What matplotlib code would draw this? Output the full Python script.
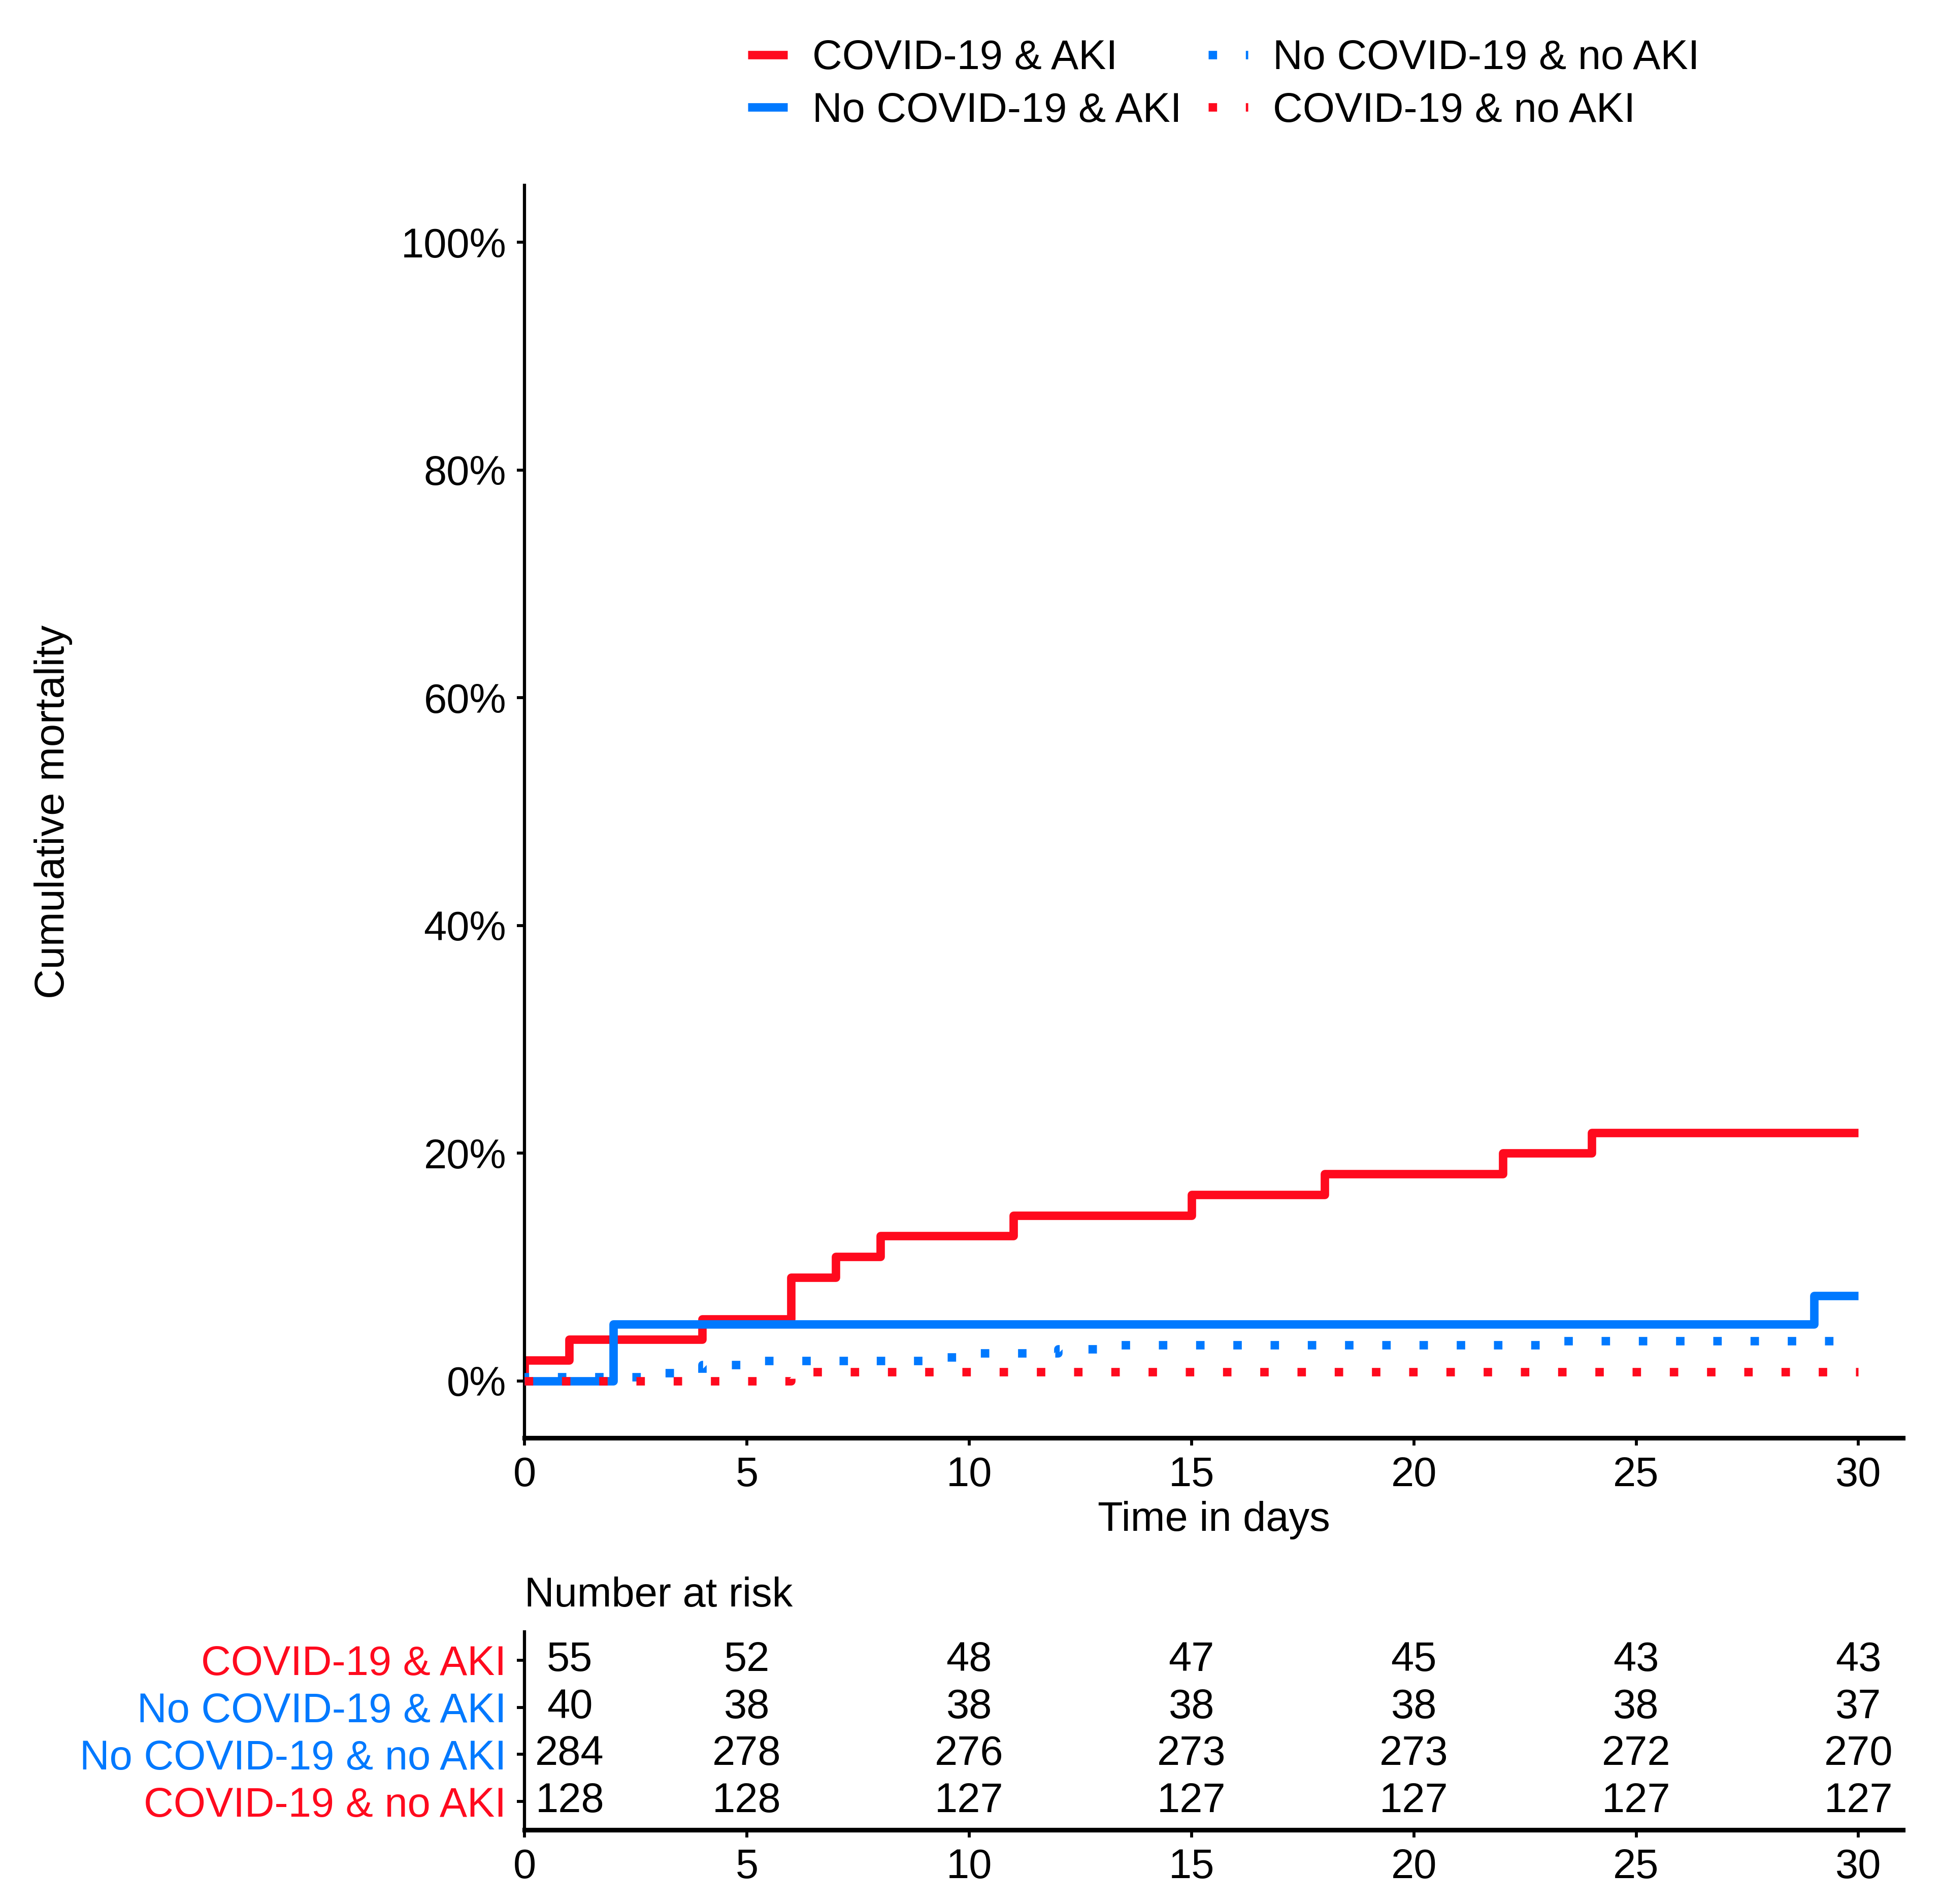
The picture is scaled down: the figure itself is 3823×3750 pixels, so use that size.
import matplotlib
matplotlib.use("Agg")
import matplotlib.pyplot as plt
import matplotlib.ticker as mticker
import matplotlib.transforms as mtransforms

plt.rcParams['font.family'] = ['Liberation Sans', 'DejaVu Sans']

# ---------------- data ----------------
groups = ["COVID-19 & AKI", "No COVID-19 & AKI", "No COVID-19 & no AKI", "COVID-19 & no AKI"]
group_colors = ["#FF0A1E", "#0079FF", "#0079FF", "#FF0A1E"]
group_styles = ["solid", "solid", "dotted", "dotted"]

# cumulative mortality (%) step curves, times in days
t_covid_aki = [0, 0, 1, 4, 6, 7, 8, 11, 15, 18, 22, 24, 30]
m_covid_aki = [0, 1.82, 3.64, 5.45, 9.09, 10.91, 12.73, 14.55, 16.36, 18.18, 20.0, 21.82, 21.82]

t_nocovid_aki = [0, 2, 29, 30]
m_nocovid_aki = [0, 5.0, 7.5, 7.5]

t_nocovid_noaki = [0, 0, 3, 4, 5, 9, 10, 12, 13, 23, 30]
m_nocovid_noaki = [0, 0.35, 0.70, 1.41, 1.77, 2.11, 2.46, 2.82, 3.17, 3.52, 3.52]

t_covid_noaki = [0, 6, 30]
m_covid_noaki = [0, 0.78, 0.78]

# number at risk table
risk_times = [0, 5, 10, 15, 20, 25, 30]
risk_covid_aki = [55, 52, 48, 47, 45, 43, 43]
risk_nocovid_aki = [40, 38, 38, 38, 38, 38, 37]
risk_nocovid_noaki = [284, 278, 276, 273, 273, 272, 270]
risk_covid_noaki = [128, 128, 127, 127, 127, 127, 127]

x_ticks = [0, 5, 10, 15, 20, 25, 30]
y_ticks = [0, 20, 40, 60, 80, 100]

curves = [(t_covid_aki, m_covid_aki), (t_nocovid_aki, m_nocovid_aki),
          (t_nocovid_noaki, m_nocovid_noaki), (t_covid_noaki, m_covid_noaki)]
risks = [risk_covid_aki, risk_nocovid_aki, risk_nocovid_noaki, risk_covid_noaki]

# ---------------- figure ----------------
W, H = 3823, 3750
DPI = 300
fig = plt.figure(figsize=(W / DPI, H / DPI), dpi=DPI)
FS = 19.5

AX_L, AX_R = 1033, 3748
ax = fig.add_axes([AX_L / W, 1 - 2832 / H, (AX_R - AX_L) / W, (2832 - 365) / H])
axt = fig.add_axes([AX_L / W, 1 - 3604 / H, (AX_R - AX_L) / W, (3604 - 3214) / H])

LW = 4.0
handles = []
for i, ((t, m), name, col, st) in enumerate(zip(curves, groups, group_colors, group_styles)):
    kw = dict(where='post', color=col, lw=LW, label=name, zorder=2 + i,
              solid_capstyle='butt', solid_joinstyle='round')
    if st == 'dotted':
        kw.update(linestyle=(0, (1.0, 3.4)), dash_capstyle='butt')
    ln, = ax.step(t, m, **kw)
    handles.append(ln)

ax.set_xlim(0, 31)
ax.set_ylim(-5, 105)
ax.set_xticks(x_ticks)
ax.set_yticks(y_ticks)
ax.yaxis.set_major_formatter(mticker.PercentFormatter(decimals=0))
for s in ['top', 'right']:
    ax.spines[s].set_visible(False)
ax.spines['left'].set_linewidth(1.5)
ax.spines['bottom'].set_linewidth(2.2)
ax.tick_params(axis='both', labelsize=FS, length=3.6, width=1.4, pad=5, colors='black')
ax.set_xlabel("Time in days", fontsize=FS, labelpad=3)
ax.set_ylabel("Cumulative mortality", fontsize=FS)
ax.yaxis.set_label_coords(-0.3278, 0.5)

# legend
fig.legend(handles, groups, ncol=2, loc='center', bbox_to_anchor=(0.6305, 0.9555),
           frameon=False, fontsize=FS, handlelength=0.96, handletextpad=0.6,
           columnspacing=0.65, labelspacing=0.34, borderpad=0)

# ---------------- risk table ----------------
rows = [4, 3, 2, 1]
first_shift = mtransforms.offset_copy(axt.transData, fig=fig, x=21.4, y=0, units='points')
for r, vals in zip(rows, risks):
    for j, (tt, v) in enumerate(zip(risk_times, vals)):
        tr = first_shift if j == 0 else axt.transData
        axt.text(tt, r, str(v), ha='center', va='center', fontsize=FS, transform=tr)

axt.set_xlim(0, 31)
axt.set_ylim(0.4, 4.6)
axt.set_xticks(x_ticks)
axt.set_yticks(rows)
axt.set_yticklabels(groups)
for lab, col in zip(axt.get_yticklabels(), group_colors):
    lab.set_color(col)
for s in ['top', 'right']:
    axt.spines[s].set_visible(False)
axt.spines['left'].set_linewidth(1.5)
axt.spines['bottom'].set_linewidth(2.2)
axt.tick_params(axis='both', labelsize=FS, length=3.6, width=1.4, pad=5)
axt.tick_params(axis='x', colors='black')
axt.set_title("Number at risk", loc='left', fontsize=FS, pad=12)

fig.savefig("out.png", dpi=DPI)
